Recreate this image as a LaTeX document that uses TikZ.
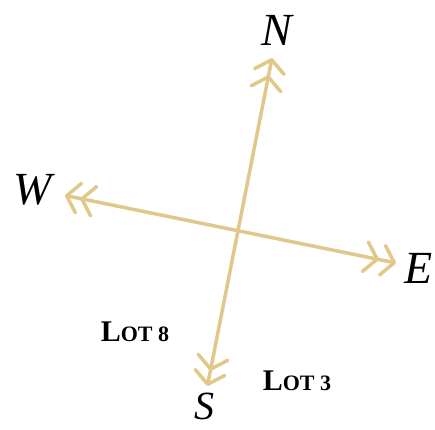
\documentclass[tikz,border=0pt]{standalone}
\usepackage{fontspec}
\setmainfont{Liberation Serif}
\usepackage{xcolor}
\usetikzlibrary{arrows.meta}
\definecolor{rope}{RGB}{224,200,138}

\begin{document}
\begin{tikzpicture}[
  x=1pt, y=-1pt,
  dir/.style={font=\fontsize{46}{46}\selectfont\itshape, inner sep=0pt},
  lot/.style={font=\bfseries, inner sep=0pt},
  arr/.style={{Straight Barb[length=12pt,width=30pt,line width=3.5pt,round,sep=2pt]Straight Barb[length=12pt,width=30pt,line width=3.5pt,round]}-{Straight Barb[length=12pt,width=30pt,line width=3.5pt,round,sep=2pt]Straight Barb[length=12pt,width=30pt,line width=3.5pt,round]}, line width=3.5pt, draw=rope}
]
  \useasboundingbox (0,0) rectangle (435,429);

  \coordinate (ntip) at (272,58);
  \coordinate (stip) at (207,388);
  \coordinate (wtip) at (63,195);
  \coordinate (etip) at (396,263);

  \node[dir] (n) at (277,30) {N};
  \node[dir] (w) at (33,190) {W};
  \node[dir] (e) at (419,268) {E};
  \node[dir, anchor=base, font=\fontsize{40}{40}\selectfont\itshape] (s) at (204,419) {S};

  \node[lot] (lot8) at (135,332) {\fontsize{30}{30}\selectfont L\fontsize{22}{22}\selectfont OT 8};
  \node[lot] (lot3) at (297,381) {\fontsize{30}{30}\selectfont L\fontsize{22}{22}\selectfont OT 3};

  \draw[arr] (stip) -- (ntip);
  \draw[arr] (wtip) -- (etip);
\end{tikzpicture}
\end{document}
